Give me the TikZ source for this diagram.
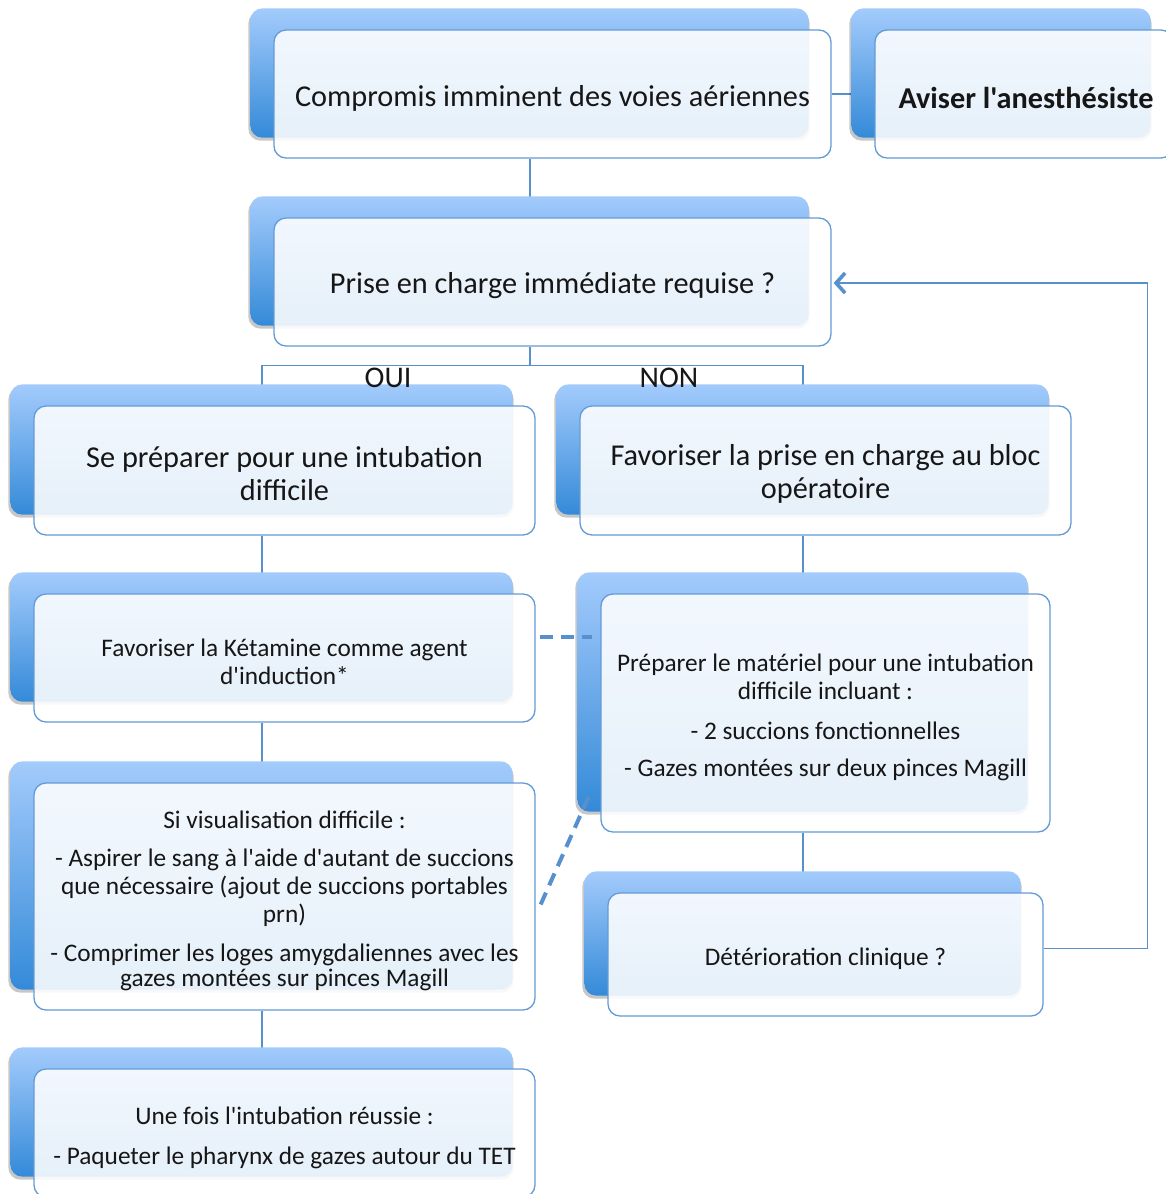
\documentclass[tikz,border=0pt]{standalone}
\usepackage{fontspec}
\setmainfont{Carlito}[Ligatures=TeXOff]
\usetikzlibrary{calc,backgrounds,arrows.meta}
\definecolor{lnblue}{RGB}{88,143,205}
\definecolor{bdblue}{RGB}{100,155,215}
\definecolor{bktop}{RGB}{163,203,252}
\definecolor{bkbot}{RGB}{52,138,216}
\definecolor{txt}{RGB}{22,22,22}
\begin{document}
\begin{tikzpicture}[x=1pt,y=-1pt,
  frontbox/.style={draw=bdblue, line width=1.3pt, rounded corners=12pt, fill=white, fill opacity=0.88, inner sep=0pt},
  txtnode/.style={text=txt, align=center, inner sep=0pt},
  bigtext/.style={txtnode, font=\fontsize{30.3}{33}\selectfont},
  boldtext/.style={txtnode, font=\fontsize{30.3}{33}\selectfont\bfseries},
  smalltext/.style={txtnode, font=\fontsize{25.3}{28}\selectfont},
  backbox/.style={rounded corners=12pt, top color=bktop, bottom color=bkbot},
  shadowbox/.style={rounded corners=12pt, fill=black, opacity=0.22},
  conn/.style={draw=lnblue, line width=1.3pt},
  dashconn/.style={draw=lnblue, line width=4pt, dash pattern=on 13pt off 8pt},
  fbarrow/.style={-{Straight Barb[length=9pt,width=20pt,line width=3.6pt]}},
  lbl/.style={font=\fontsize{30}{33}\selectfont, text=txt, inner sep=0pt}
]
\useasboundingbox (0,0) rectangle (1165,1194);

% front boxes (nodes)
\node[frontbox, minimum width=557pt, minimum height=128pt] (c1) at (552.5,94) {};
\node[frontbox, minimum width=298pt, minimum height=128pt] (av) at (1024,94) {};
\node[frontbox, minimum width=557pt, minimum height=128pt] (pr) at (552.5,282) {};
\node[frontbox, minimum width=501pt, minimum height=129pt] (oui) at (284.5,470.5) {};
\node[frontbox, minimum width=491pt, minimum height=129pt] (non) at (825.5,470.5) {};
\node[frontbox, minimum width=501pt, minimum height=128pt] (ket) at (284.5,658) {};
\node[frontbox, minimum width=449pt, minimum height=238pt] (mat) at (825.5,713) {};
\node[frontbox, minimum width=501pt, minimum height=227pt] (vis) at (284.5,896.5) {};
\node[frontbox, minimum width=501pt, minimum height=128pt] (une) at (284.5,1133) {};
\node[frontbox, minimum width=435pt, minimum height=123pt] (det) at (825.5,954.5) {};

% texts
\node[bigtext] (c1t) at ($(c1)+(0,4)$) {Compromis imminent des voies aériennes};
\node[boldtext] (avt) at ($(av)+(2,4)$) {Aviser l'anesthésiste};
\node[bigtext] (prt) at ($(pr)+(0,4)$) {Prise en charge immédiate requise ?};
\node[bigtext] (ouit) at ($(oui)+(0,3)$) {Se préparer pour une intubation\\ difficile};
\node[bigtext] (nont) at ($(non)+(0,3)$) {Favoriser la prise en charge au bloc\\ opératoire};
\node[smalltext] (kett) at ($(ket)+(0,4)$) {Favoriser la Kétamine comme agent\\ d'induction*};
\node[smalltext] (matt) at ($(mat)+(0,4)$) {Préparer le matériel pour une intubation\\ difficile incluant :\\[12pt] - 2 succions fonctionnelles\\[9pt] - Gazes montées sur deux pinces Magill};
\node[smalltext] (vist) at ($(vis)+(0,4)$) {Si visualisation difficile :\\[10pt] - Aspirer le sang à l'aide d'autant de succions\\ que nécessaire (ajout de succions portables\\ prn)\\[11pt] - Comprimer les loges amygdaliennes avec les\\[-3pt] gazes montées sur pinces Magill};
\node[smalltext] (unet) at ($(une)+(0,5)$) {Une fois l'intubation réussie :\\[12pt] - Paqueter le pharynx de gazes autour du TET};
\node[smalltext] (dett) at ($(det)+(0,4)$) {Détérioration clinique ?};

% labels
\node[lbl] (lbloui) at (388,378) {OUI};
\node[lbl] (lblnon) at (669,378) {NON};

\coordinate (split) at ($(pr.south)+(-22.5,19)$);

\begin{scope}[on background layer]
  % solid connectors
  \draw[conn] (c1.east) -- (av.west);
  \draw[conn] ($(c1.south)+(-22.5,0)$) -- ($(pr.north)+(-22.5,0)$);
  \draw[conn] ($(pr.south)+(-22.5,0)$) -- (split);
  \draw[conn] ($(oui.north)+(-22.5,0)$) |- (split);
  \draw[conn] ($(non.north)+(-22.5,0)$) |- (split);
  \draw[conn] ($(oui.south)+(-22.5,0)$) -- ($(ket.north)+(-22.5,0)$);
  \draw[conn] ($(ket.south)+(-22.5,0)$) -- ($(vis.north)+(-22.5,0)$);
  \draw[conn] ($(vis.south)+(-22.5,0)$) -- ($(une.north)+(-22.5,0)$);
  \draw[conn] ($(non.south)+(-22.5,0)$) -- ($(mat.north)+(-22.5,0)$);
  \draw[conn] ($(mat.south)+(-22.5,0)$) -- ($(det.north)+(-22.5,0)$);
  % back boxes
  \foreach \n in {c1,av,pr,oui,non,ket,mat,vis,une,det} {
    \fill[shadowbox] ($(\n.north west)+(-25,-18)$) rectangle ($(\n.south east)+(-22,-18)$);
    \path[backbox] ($(\n.north west)+(-23,-21)$) rectangle ($(\n.south east)+(-23,-21)$);
  }
\end{scope}

% dashed links
\draw[dashconn] ($(ket.east)+(4,-21)$) -- ($(mat.west)+(-8,-76)$);
\draw[dashconn] ($(vis.east)+(5,8)$) -- ($(mat.south west)+(-9,-42)$);

% feedback arrow
\draw[conn, fbarrow] ($(det.east)+(0,-6)$) -- ++(104,0) |- ($(pr.east)+(2,1)$);
\end{tikzpicture}
\end{document}
